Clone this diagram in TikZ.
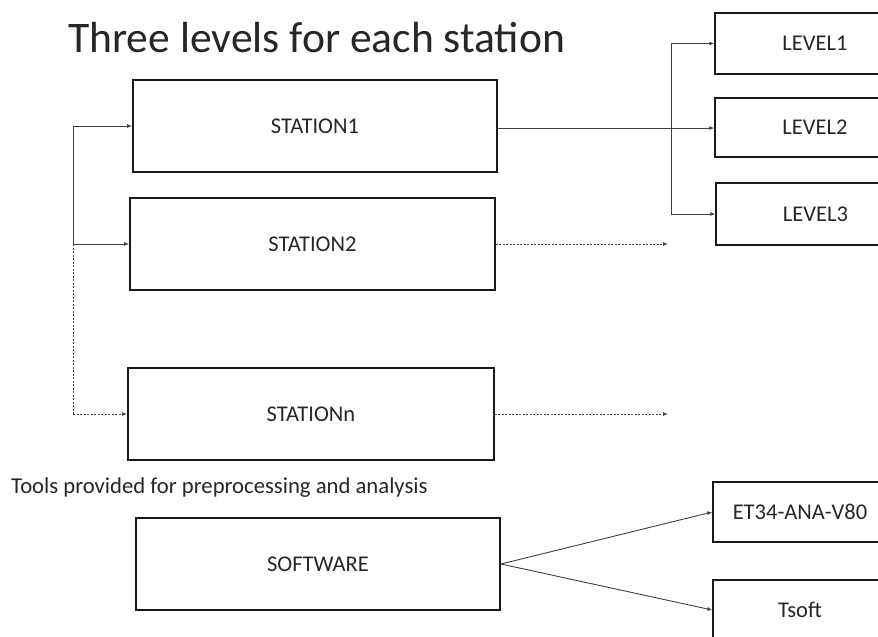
\documentclass[tikz,border=0pt]{standalone}
\usepackage{fontspec}
\setmainfont{Carlito}
\usetikzlibrary{arrows.meta,calc}
\begin{document}
\begin{tikzpicture}[x=1pt,y=-1pt,
  box/.style={draw=black!90,line width=1.8pt,rectangle,font=\fontsize{22.5}{26}\selectfont,text=black!85,inner sep=0pt},
  conn/.style={draw=black!75,line width=0.9pt,-{Latex[length=5pt,width=4pt]}},
  dotconn/.style={conn,dash pattern=on 2pt off 1.5pt}]
\useasboundingbox (0,0) rectangle (878,637);
\clip (0,0) rectangle (878,637);
% title
\node[anchor=base west,inner sep=0pt,font=\fontsize{43.6}{50}\selectfont,text=black!85] (title) at (68,52) {Three levels for each station};
% stations
\node[box,minimum width=364pt,minimum height=92pt] (S1) at (315,126) {STATION1};
\node[box,minimum width=365pt,minimum height=92pt] (S2) at (312.5,244) {STATION2};
\node[box,minimum width=366pt,minimum height=92pt] (Sn) at (311,414) {STATIONn};
\node[box,minimum width=364pt,minimum height=92pt] (SW) at (318,564) {SOFTWARE};
% levels
\node[box,line width=1.4pt,minimum width=200pt,minimum height=61pt] (L1) at (815,43.5) {LEVEL1};
\node[box,line width=1.4pt,minimum width=200pt,minimum height=59pt] (L2) at (815,127.5) {LEVEL2};
\node[box,line width=1.4pt,minimum width=199pt,minimum height=62pt] (L3) at (815.5,214) {LEVEL3};
% software outputs
\node[box,line width=1.4pt,minimum width=174pt,minimum height=60pt] (ET) at (800,512) {ET34-ANA-V80};
\node[box,line width=1.4pt,minimum width=174pt,minimum height=60pt] (TS) at (800,610) {Tsoft};
% tools text
\node[anchor=west,inner sep=0pt,font=\fontsize{22.7}{26}\selectfont,text=black!85] (tools) at (11,488) {Tools provided for preprocessing and analysis};
% coordinates
\coordinate (br) at (671,128);
\coordinate (lb1) at (73,126);
\coordinate (lb2) at (73,244);
\coordinate (lb3) at (73,414);
\coordinate (e2) at (668,244);
\coordinate (e3) at (668,414);
% station1 to levels
\draw[draw=black!75,line width=0.9pt] (S1.east |- br) -- (br);
\draw[conn] (br) -- (br -| L2.west);
\draw[conn] (br) |- (L1.west);
\draw[conn] (br) |- (L3.west);
% left feed
\draw[draw=black!75,line width=0.9pt] (lb1) -- (lb2);
\draw[draw=black!75,line width=0.9pt,dash pattern=on 2pt off 1.5pt] (lb2) -- (lb3);
\draw[conn] (lb1) -- (lb1 -| S1.west);
\draw[conn] (lb2) -- (lb2 -| S2.west);
\draw[dotconn] (lb3) -- (lb3 -| Sn.west);
% dotted continuations
\draw[dotconn] (S2.east |- e2) -- (e2);
\draw[dotconn] (Sn.east |- e3) -- (e3);
% software
\draw[conn] (SW.east) -- (ET.west);
\draw[conn] (SW.east) -- (TS.west);
\end{tikzpicture}
\end{document}
